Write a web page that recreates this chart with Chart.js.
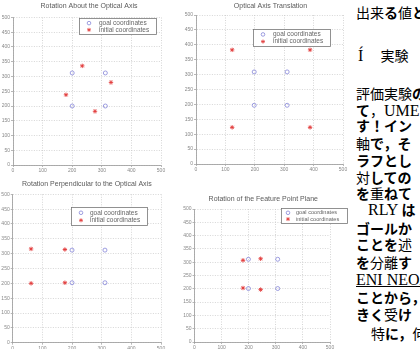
<!DOCTYPE html>
<html>
<head>
<meta charset="utf-8">
<script src="https://cdn.jsdelivr.net/npm/chart.js@4/dist/chart.umd.min.js"></script>
<style>
html, body { margin: 0; padding: 0; background: #fff; width: 420px; height: 349px; overflow: hidden; }
body { position: relative; }
canvas { position: absolute; }
#side { position: absolute; left: 355px; top: 0; width: 65px; height: 349px; overflow: hidden; font-family: "Noto Sans CJK JP"; font-size: 14px; color: #000; }
#side div { position: absolute; white-space: nowrap; line-height: 1; }
#side .lat { font-family: "Liberation Serif"; font-size: 16px; }
</style>
</head>
<body>
<canvas id="c1" width="175" height="175" style="left:0;top:0"></canvas>
<canvas id="c2" width="175" height="175" style="left:180px;top:0"></canvas>
<canvas id="c3" width="175" height="174" style="left:0;top:175px"></canvas>
<canvas id="c4" width="175" height="174" style="left:180px;top:175px"></canvas>
<div id="side">
  <div style="left:1px;top:5px">出来<b>る</b>値<b>と</b></div>
  <div style="left:3px;top:48px"><span class="lat">Í</span>　 実験</div>
  <div style="left:1px;top:86px">評価実験<b>の</b></div>
  <div style="left:1px;top:103px"><b>て</b>，<span class="lat">UME</span></div>
  <div style="left:1px;top:118px"><b>す！イン</b></div>
  <div style="left:1px;top:136px">軸<b>で，そ</b></div>
  <div style="left:1px;top:153px"><b>ラフとし</b></div>
  <div style="left:1px;top:170px">対<b>しての</b></div>
  <div style="left:1px;top:186px"><b>を</b>重<b>ねて</b></div>
  <div style="left:13px;top:202px"><span class="lat">RLY</span> <b>は</b></div>
  <div style="left:1px;top:221px"><b>ゴールか</b></div>
  <div style="left:1px;top:237px"><b>ことを</b>述</div>
  <div style="left:1px;top:255px"><b>を</b>分離<b>す</b></div>
  <div style="left:1px;top:272px"><span class="lat" style="text-decoration:underline">ENI NEOAC</span></div>
  <div style="left:1px;top:290px"><b>ことから，</b></div>
  <div style="left:1px;top:307px"><b>きく</b>受<b>け</b></div>
  <div style="left:16px;top:326px">特<b>に，</b>何</div>
</div>
<script>
// 軸目盛
const xTicks = [0, 100, 200, 300, 400, 500];
const yTicks = [0, 50, 100, 150, 200, 250, 300, 350, 400, 450, 500];
const seriesNames = ['goal coordinates', 'initial coordinates'];

// Rotation About the Optical Axis
const axisRotGoalX = [200, 312, 200, 312];
const axisRotGoalY = [312, 312, 200, 200];
const axisRotInitX = [234, 331, 179, 277];
const axisRotInitY = [336, 280, 238, 182];

// Optical Axis Translation
const transGoalX = [198, 310, 198, 310];
const transGoalY = [309, 309, 197, 197];
const transInitX = [123, 388, 123, 388];
const transInitY = [383, 383, 123, 123];

// Rotation Perpendicular to the Optical Axis
const perpGoalX = [200, 311, 200, 311];
const perpGoalY = [312, 312, 202, 202];
const perpInitX = [62, 62, 176, 176];
const perpInitY = [316, 200, 314, 202];

// Rotation of the Feature Point Plane
const planeGoalX = [199, 307, 199, 307];
const planeGoalY = [311, 311, 201, 201];
const planeInitX = [179, 244, 179, 244];
const planeInitY = [307, 313, 203, 197];

const FONT = '"Liberation Sans", Arial, sans-serif';
const GOAL_COLOR = '#8585d8';
const INIT_COLOR = '#e23a3a';

function toPoints(xs, ys) {
    return xs.map((x, i) => ({ x: x, y: ys[i] }));
}

// 凡例の記号
function drawMarker(ctx, style, color, x, y) {
    ctx.save();
    ctx.strokeStyle = color;
    ctx.lineWidth = 0.8;
    ctx.beginPath();
    if (style === 'circle') {
        ctx.arc(x, y, 1.8, 0, Math.PI * 2);
    } else {
        const r = 2;
        for (let k = 0; k < 4; k++) {
            const a = k * Math.PI / 4;
            ctx.moveTo(x - r * Math.cos(a), y - r * Math.sin(a));
            ctx.lineTo(x + r * Math.cos(a), y + r * Math.sin(a));
        }
    }
    ctx.stroke();
    ctx.restore();
}

const boxLegend = {
    id: 'boxLegend',
    afterDraw(chart, args, opts) {
        const ctx = chart.ctx;
        ctx.save();
        ctx.fillStyle = '#fff';
        ctx.fillRect(opts.x, opts.y, opts.w, opts.h);
        ctx.strokeStyle = '#777';
        ctx.lineWidth = 0.8;
        ctx.strokeRect(opts.x + 0.5, opts.y + 0.5, opts.w, opts.h);
        ctx.font = (opts.size || 6.5) + 'px ' + FONT;
        ctx.textBaseline = 'middle';
        chart.data.datasets.forEach((ds, i) => {
            const cy = opts.y + opts.h * (i === 0 ? 0.32 : 0.74);
            drawMarker(ctx, ds.pointStyle, ds.borderColor, opts.x + opts.mx, cy);
            ctx.fillStyle = '#666';
            ctx.fillText(ds.label, opts.x + opts.tx, cy);
        });
        ctx.restore();
    }
};

const panelTitle = {
    id: 'panelTitle',
    afterDraw(chart, args, opts) {
        const ctx = chart.ctx;
        const a = chart.chartArea;
        ctx.save();
        ctx.font = '7px ' + FONT;
        ctx.fillStyle = '#5a5a5a';
        ctx.textAlign = 'center';
        ctx.textBaseline = 'middle';
        ctx.fillText(opts.text, (a.left + a.right) / 2 + (opts.dx || 0), opts.y);
        ctx.restore();
    }
};

function axis(ticks, isX, size) {
    return {
        type: 'linear',
        min: 0,
        max: 500,
        afterBuildTicks: s => { s.ticks = ticks.map(v => ({ value: v })); },
        afterFit: s => { if (isX) s.height = size; else s.width = size; },
        ticks: { color: '#888', font: { size: 5, family: FONT }, padding: 1 },
        grid: { color: '#c4c4c4', lineWidth: 0.7, tickLength: 2, tickColor: '#999', tickBorderDash: [] },
        border: { display: true, color: '#999', width: 0.8, dash: [1, 1.5] }
    };
}

function makePanel(id, p) {
    return new Chart(document.getElementById(id), {
        type: 'scatter',
        data: {
            datasets: [
                { label: seriesNames[0], data: toPoints(p.goalX, p.goalY), pointStyle: 'circle', pointRadius: 2, borderColor: GOAL_COLOR, backgroundColor: 'rgba(0,0,0,0)', borderWidth: 0.8 },
                { label: seriesNames[1], data: toPoints(p.initX, p.initY), pointStyle: 'star', pointRadius: 2.2, borderColor: INIT_COLOR, backgroundColor: INIT_COLOR, borderWidth: 0.9 }
            ]
        },
        options: {
            responsive: false,
            animation: false,
            devicePixelRatio: 1,
            layout: { padding: { left: 0, top: p.top, right: p.right, bottom: 0 } },
            scales: {
                x: axis(xTicks, true, p.xh),
                y: axis(yTicks, false, p.yw)
            },
            plugins: {
                legend: { display: false },
                tooltip: { enabled: false },
                panelTitle: { text: p.title, y: p.titleY, dx: p.titleDx },
                boxLegend: p.legend
            }
        },
        plugins: [panelTitle, boxLegend]
    });
}

makePanel('c1', {
    title: 'Rotation About the Optical Axis', titleY: 6, titleDx: 2,
    goalX: axisRotGoalX, goalY: axisRotGoalY, initX: axisRotInitX, initY: axisRotInitY,
    top: 17.5, right: 14, xh: 10, yw: 13,
    legend: { x: 79, y: 18, w: 77, h: 16, mx: 10, tx: 20, size: 6.5 }
});
makePanel('c2', {
    title: 'Optical Axis Translation', titleY: 6, titleDx: 1,
    goalX: transGoalX, goalY: transGoalY, initX: transInitX, initY: transInitY,
    top: 15, right: 12, xh: 11, yw: 16,
    legend: { x: 73, y: 29, w: 77, h: 17, mx: 10, tx: 20, size: 6.5 }
});
makePanel('c3', {
    title: 'Rotation Perpendicular to the Optical Axis', titleY: 9, titleDx: 0,
    goalX: perpGoalX, goalY: perpGoalY, initX: perpInitX, initY: perpInitY,
    top: 19.3, right: 14, xh: 6.3, yw: 12.7,
    legend: { x: 71, y: 32, w: 76, h: 18, mx: 10, tx: 19, size: 6.5 }
});
makePanel('c4', {
    title: 'Rotation of the Feature Point Plane', titleY: 24, titleDx: 1,
    goalX: planeGoalX, goalY: planeGoalY, initX: planeInitX, initY: planeInitY,
    top: 34, right: 25, xh: 7, yw: 14.5,
    legend: { x: 101, y: 33, w: 66, h: 15, mx: 7, tx: 15, size: 5.6 }
});
</script>
</body>
</html>
